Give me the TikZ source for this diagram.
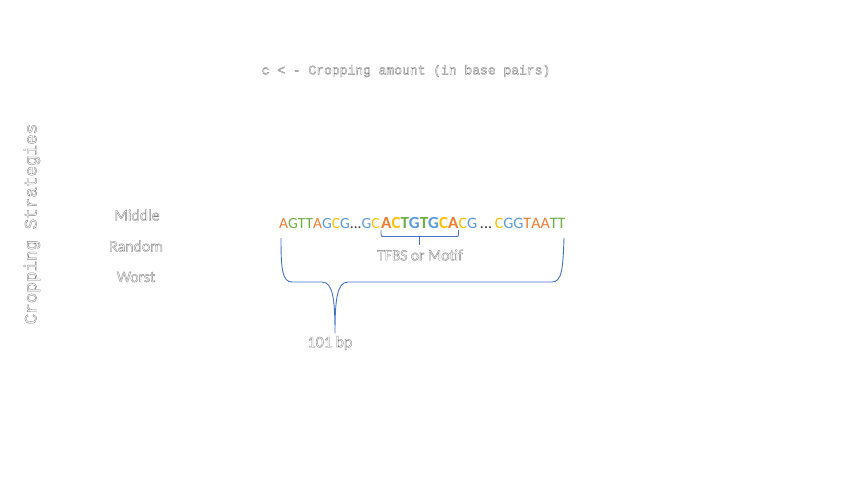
\documentclass[tikz,border=0pt]{standalone}
\usepackage{fontspec}
\usetikzlibrary{calc}
\setmainfont{Carlito}
\newfontfamily\monofont{Liberation Mono}
\definecolor{nA}{HTML}{ED7D31}
\definecolor{nG}{HTML}{70AD47}
\definecolor{nB}{HTML}{5B9BD5}
\definecolor{nC}{HTML}{FFC000}
\definecolor{braceblue}{HTML}{4472C4}
\definecolor{labelgray}{HTML}{7F7F7F}
\newcommand\outl[1]{\special{pdf:literal direct 1 Tr 0.35 w}#1\special{pdf:literal direct 0 Tr}}
\newcommand\oA{\textcolor{nA}{A}}
\newcommand\oG{\textcolor{nB}{G}}
\newcommand\oGg{\textcolor{nG}{G}}
\newcommand\oT{\textcolor{nG}{T}}
\newcommand\oTo{\textcolor{nA}{T}}
\newcommand\oC{\textcolor{nC}{C}}
\tikzset{
  lbl/.style={text=labelgray, font=\fontsize{15.8}{15.8}\selectfont, inner sep=0pt},
  mono/.style={text=labelgray, inner sep=0pt},
  seq/.style={font=\fontsize{16}{16}\selectfont, inner sep=0pt, anchor=base west},
  bseq/.style={font=\bfseries\fontsize{17}{17}\selectfont, inner sep=0pt, anchor=base west},
  brace/.style={draw=braceblue, line width=0.9pt, line join=round}
}
\begin{document}
\begin{tikzpicture}[x=1pt,y=-1pt]
\useasboundingbox (0,0) rectangle (853,480);
\fill[white] (0,0) rectangle (853,480);

\node[mono, font=\monofont\fontsize{13}{13}\selectfont] (title) at (406,71) {\outl{c < - Cropping amount (in base pairs)}};
\node[mono, font=\monofont\fontsize{17.6}{17.6}\selectfont, rotate=90] (strat) at (32,224) {\outl{Cropping Strategies}};

\node[lbl] (middle) at (137,215) {\outl{Middle}};
\node[lbl] (random) at (136,246) {\outl{Random}};
\node[lbl] (worst) at (136,277) {\outl{Worst}};

\node[seq, font=\fontsize{15.5}{15.5}\selectfont] (s1) at (279,228) {\oA\oGg\oT\oT\oA\oG\oC\oG{\color{black!80}...}\oG\oC};
\node[bseq] (motif) at (381,228) {\oA\oC\oT\oG\oT\oG\oC\oA};
\node[seq] (s3) at (motif.base east) {\oC\oG{\color{black!80}\,...\,}\oC\oG\oG\oTo\oA\oA\oT\oT};

% small brace under motif
\coordinate (mL) at (motif.base west);
\coordinate (mR) at (motif.base east);
\coordinate (mC) at ($(mL)!0.5!(mR)$);
\draw[brace] ([yshift=-2pt]mL) -- ([yshift=-6pt]mL) .. controls ([yshift=-8.5pt]mL) .. ([xshift=3pt,yshift=-8.5pt]mL) -- ([xshift=-3pt,yshift=-8.5pt]mR) .. controls ([yshift=-8.5pt]mR) .. ([yshift=-6pt]mR) -- ([yshift=-2pt]mR);
\draw[brace] ([yshift=-8.5pt]mC) -- ([yshift=-17pt]mC) coordinate (mtip);
\node[lbl, font=\fontsize{15.5}{15.5}\selectfont] (tfbs) at (420,255) {\outl{TFBS or Motif}};

% big brace
\coordinate (bL) at (281,238);
\coordinate (bR) at (564,238);
\coordinate (btip) at (335,333);
\draw[brace] (bL) .. controls (281,268) and (282,282) .. (292,282) -- (322,282)
  .. controls (333,282) and (335,300) .. (btip)
  .. controls (335,300) and (337,282) .. (348,282) -- (552,282)
  .. controls (562,282) and (563,268) .. (bR);
\node[lbl, font=\fontsize{16}{16}\selectfont] (bp) at (330,343) {\outl{101\ bp}};
\end{tikzpicture}
\end{document}
